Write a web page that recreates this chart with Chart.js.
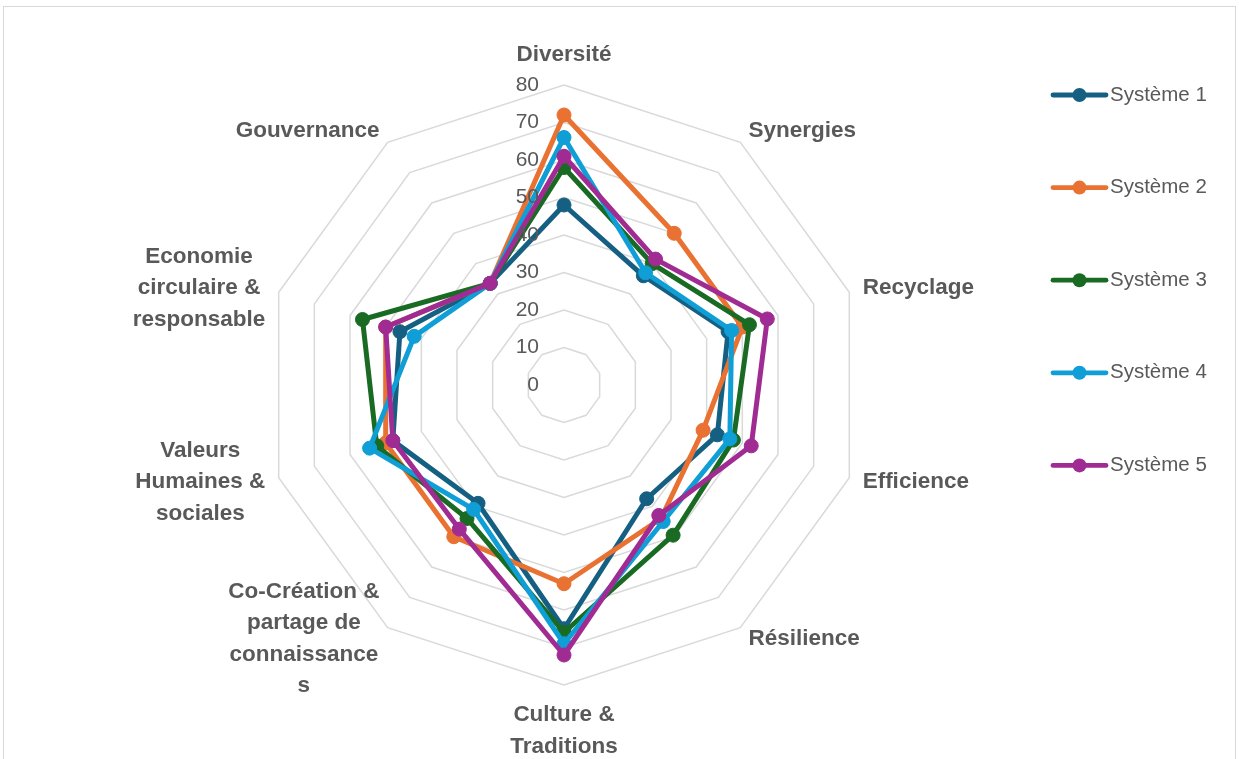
<!DOCTYPE html>
<html lang="fr">
<head>
<meta charset="utf-8">
<title>Systèmes</title>
<script src="https://cdn.jsdelivr.net/npm/chart.js@4.4.1/dist/chart.umd.min.js"></script>
<style>
  html, body { margin: 0; padding: 0; background: #fff; }
  canvas { display: block; }
</style>
</head>
<body>
<canvas id="radar" width="1239" height="759"></canvas>
<script>
// axis names, one entry per line of text
const categories = [
  ['Diversité'],
  ['Synergies'],
  ['Recyclage'],
  ['Efficience'],
  ['Résilience'],
  ['Culture &', 'Traditions'],
  ['Co-Création &', 'partage de', 'connaissance', 's'],
  ['Valeurs', 'Humaines &', 'sociales'],
  ['Economie', 'circulaire &', 'responsable'],
  ['Gouvernance']
];

const systeme1 = [48, 36, 46, 43, 37.5, 65, 39, 48, 46, 33.5];
const systeme2 = [72, 50, 50, 39, 44, 53, 50, 50, 50, 33.5];
const systeme3 = [58, 40, 52, 47.5, 49.5, 66, 44, 52.5, 56.5, 33.5];
const systeme4 = [66, 37, 47, 46.5, 45, 69, 41, 54.5, 42, 33.5];
const systeme5 = [61, 41.5, 57, 52.5, 43, 72, 47.5, 48, 50, 33.5];

const tickValues = [0, 10, 20, 30, 40, 50, 60, 70, 80];

const seriesNames = ['Système 1', 'Système 2', 'Système 3', 'Système 4', 'Système 5'];
const seriesValues = [systeme1, systeme2, systeme3, systeme4, systeme5];
const seriesColors = ['#156082', '#E97132', '#196B24', '#0F9ED5', '#A02B93'];

const TEXT = '#595959';
const GRID = '#d9d9d9';
const FONT = '"Liberation Sans", Arial, sans-serif';

// white background and the thin frame round the chart
const framePlugin = {
  id: 'frame',
  beforeDraw(chart) {
    const ctx = chart.ctx;
    ctx.save();
    ctx.fillStyle = '#fff';
    ctx.fillRect(0, 0, chart.width, chart.height);
    ctx.strokeStyle = GRID;
    ctx.lineWidth = 1;
    ctx.strokeRect(3.5, 6.5, chart.width - 7, chart.height + 20);
    ctx.restore();
  }
};

// axis names outside the outer ring, value labels left of the vertical axis
const axisTextPlugin = {
  id: 'axisText',
  afterDatasetsDraw(chart) {
    const ctx = chart.ctx;
    const r = chart.scales.r;
    ctx.save();

    // value labels
    ctx.font = '21px ' + FONT;
    ctx.fillStyle = TEXT;
    ctx.textAlign = 'right';
    ctx.textBaseline = 'middle';
    tickValues.forEach(v => {
      const d = r.getDistanceFromCenterForValue(v);
      ctx.fillText(String(v), r.xCenter - 25, r.yCenter - d);
    });

    // axis names
    const lineH = 31.5;
    ctx.font = 'bold 22.5px ' + FONT;
    categories.forEach((lines, i) => {
      const p = r.getPointPosition(i, r.drawingArea + 14);
      const a = (i / categories.length) * Math.PI * 2;
      const s = Math.sin(a), c = Math.cos(a);
      const widest = Math.max(...lines.map(t => ctx.measureText(t).width));
      let cx, y0;
      if (Math.abs(s) < 0.1) {
        cx = p.x;
        y0 = c > 0 ? p.y - 16 - (lines.length - 1) * lineH : p.y + 16;
      } else {
        cx = s > 0 ? p.x + widest / 2 : p.x - widest / 2;
        y0 = p.y - (lines.length - 1) * lineH / 2;
      }
      ctx.textAlign = 'center';
      lines.forEach((t, k) => ctx.fillText(t, cx, y0 + k * lineH));
    });
    ctx.restore();
  }
};

// legend on the right: short line with a marker, then the name
const legendPlugin = {
  id: 'sideLegend',
  afterDraw(chart) {
    const ctx = chart.ctx;
    ctx.save();
    chart.data.datasets.forEach((ds, i) => {
      const y = 95 + i * 92.6;
      ctx.strokeStyle = ds.borderColor;
      ctx.lineWidth = 4.8;
      ctx.lineCap = 'round';
      ctx.beginPath();
      ctx.moveTo(1053, y);
      ctx.lineTo(1106, y);
      ctx.stroke();
      ctx.fillStyle = ds.borderColor;
      ctx.beginPath();
      ctx.arc(1079.5, y, 7, 0, Math.PI * 2);
      ctx.fill();
      ctx.fillStyle = TEXT;
      ctx.font = '20.5px ' + FONT;
      ctx.textAlign = 'left';
      ctx.textBaseline = 'middle';
      ctx.fillText(ds.label, 1110, y);
    });
    ctx.restore();
  }
};

const datasets = seriesNames.map((name, i) => ({
  label: name,
  data: seriesValues[i],
  borderColor: seriesColors[i],
  backgroundColor: seriesColors[i],
  pointBackgroundColor: seriesColors[i],
  pointBorderColor: seriesColors[i],
  borderWidth: 5,
  borderJoinStyle: 'round',
  pointRadius: 7,
  pointBorderWidth: 1,
  fill: false,
  // later series sit on top
  order: seriesNames.length - i
}));

new Chart(document.getElementById('radar'), {
  type: 'radar',
  data: { labels: categories, datasets },
  options: {
    responsive: false,
    animation: false,
    layout: { padding: { left: 264, right: 375, top: 85, bottom: 74 } },
    plugins: {
      legend: { display: false },
      tooltip: { enabled: false }
    },
    scales: {
      r: {
        min: 0,
        max: 80,
        ticks: { stepSize: 10, display: false },
        grid: { color: GRID, lineWidth: 1.5 },
        angleLines: { display: false },
        pointLabels: { display: false }
      }
    }
  },
  plugins: [framePlugin, axisTextPlugin, legendPlugin]
});
</script>
</body>
</html>
